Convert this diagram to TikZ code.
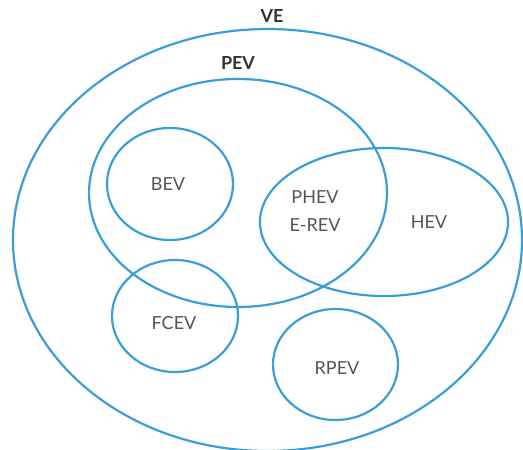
\documentclass[tikz,border=0pt]{standalone}
\usepackage{fontspec}
\setmainfont{Lato}
\usepackage{xcolor}
\definecolor{vennblue}{HTML}{3A9FD6}
\definecolor{labelgray}{HTML}{555555}
\definecolor{titlegray}{HTML}{333333}

\begin{document}
\begin{tikzpicture}[x=1pt, y=-1pt,
        set/.style={draw=vennblue, line width=2.2pt},
        setname/.style={text=labelgray, font=\fontsize{18}{21}\selectfont},
        settitle/.style={text=titlegray, font=\fontsize{18}{21}\selectfont\bfseries}]
            \useasboundingbox (0,0) rectangle (523,450);
            % outer sets
            \draw [set] (267.5,240) ellipse (254.5 and 211);
            \draw [set] (238,193) ellipse (149 and 114);
            % inner sets
            \draw [set] (170,184) ellipse (63 and 56);
            \draw [set] (384,222) ellipse (124 and 74);
            \draw [set] (175,316) ellipse (63 and 56);
            \draw [set] (335.5,364.5) ellipse (62.5 and 55.5);
            \node [settitle] (ve) at (272,16) {VE};
            \node [settitle] (pev) at (238,63) {PEV};
            \node [setname] (bev) at (168,184) {BEV};
            \node [setname] (phev) at (315,197) {PHEV};
            \node [setname] (erev) at (315,225) {E-REV};
            \node [setname] (hev) at (429,222) {HEV};
            \node [setname] (fcev) at (174,323) {FCEV};
            \node [setname] (rpev) at (337,368) {RPEV};
        \end{tikzpicture}
\end{document}
